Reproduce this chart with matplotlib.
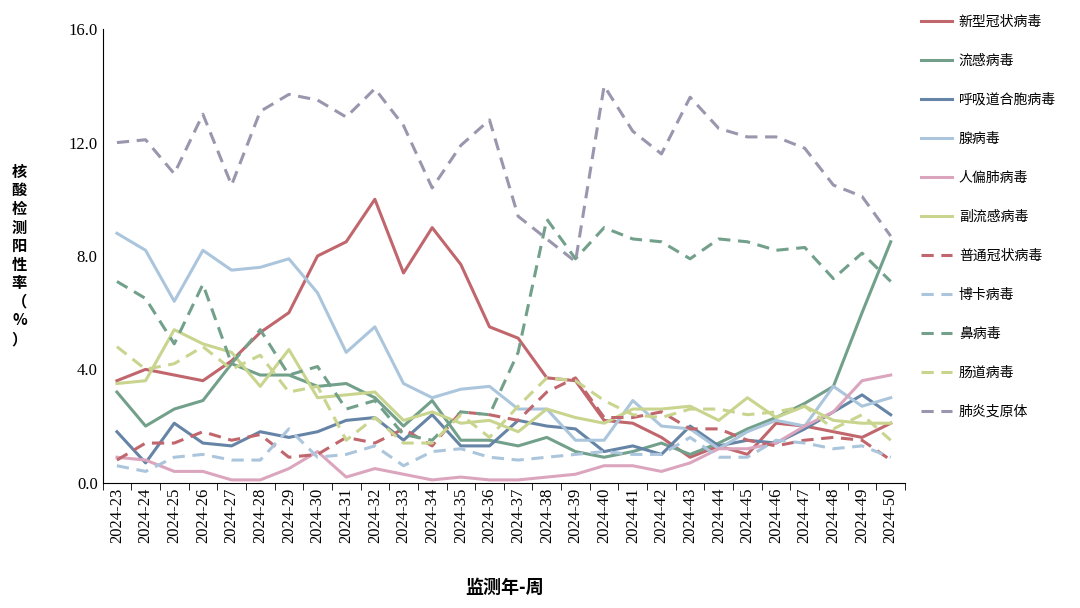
import matplotlib.pyplot as plt

weeks = ["2024-%d" % w for w in range(23, 51)]

covid = [3.6, 4.0, 3.8, 3.6, 4.3, 5.3, 6.0, 8.0, 8.5, 10.0, 7.4, 9.0, 7.7, 5.5, 5.1, 3.7, 3.6, 2.2, 2.1, 1.6, 0.9, 1.3, 1.0, 2.1, 2.0, 1.8, 1.6, 2.1]
flu = [3.2, 2.0, 2.6, 2.9, 4.2, 3.8, 3.8, 3.4, 3.5, 3.0, 2.0, 2.9, 1.5, 1.5, 1.3, 1.6, 1.1, 0.9, 1.1, 1.4, 1.0, 1.4, 1.9, 2.3, 2.8, 3.4, 6.0, 8.5]
rsv = [1.8, 0.7, 2.1, 1.4, 1.3, 1.8, 1.6, 1.8, 2.2, 2.3, 1.5, 2.4, 1.3, 1.3, 2.2, 2.0, 1.9, 1.1, 1.3, 1.0, 2.0, 1.3, 1.5, 1.4, 1.9, 2.5, 3.1, 2.4]
adeno = [8.8, 8.2, 6.4, 8.2, 7.5, 7.6, 7.9, 6.7, 4.6, 5.5, 3.5, 3.0, 3.3, 3.4, 2.6, 2.6, 1.5, 1.5, 2.9, 2.0, 1.9, 1.2, 1.8, 2.2, 2.0, 3.4, 2.7, 3.0]
hmpv = [0.9, 0.8, 0.4, 0.4, 0.1, 0.1, 0.5, 1.1, 0.2, 0.5, 0.3, 0.1, 0.2, 0.1, 0.1, 0.2, 0.3, 0.6, 0.6, 0.4, 0.7, 1.2, 1.2, 1.4, 2.0, 2.5, 3.6, 3.8]
paraflu = [3.5, 3.6, 5.4, 4.9, 4.6, 3.4, 4.7, 3.0, 3.1, 3.2, 2.2, 2.5, 2.1, 2.2, 1.8, 2.6, 2.3, 2.1, 2.6, 2.6, 2.7, 2.2, 3.0, 2.3, 2.7, 2.2, 2.1, 2.1]
hcov = [0.8, 1.4, 1.4, 1.8, 1.5, 1.7, 0.9, 1.0, 1.6, 1.4, 1.9, 1.3, 2.5, 2.4, 2.2, 3.2, 3.7, 2.3, 2.3, 2.5, 1.9, 1.9, 1.5, 1.3, 1.5, 1.6, 1.5, 0.8]
boca = [0.6, 0.4, 0.9, 1.0, 0.8, 0.8, 1.9, 0.9, 1.0, 1.3, 0.6, 1.1, 1.2, 0.9, 0.8, 0.9, 1.0, 1.1, 1.0, 1.0, 1.6, 0.9, 0.9, 1.5, 1.4, 1.2, 1.3, 0.9]
rhino = [7.1, 6.5, 4.9, 7.0, 4.2, 5.4, 3.8, 4.1, 2.6, 2.9, 1.7, 1.5, 2.5, 2.4, 4.6, 9.3, 7.9, 9.0, 8.6, 8.5, 7.9, 8.6, 8.5, 8.2, 8.3, 7.2, 8.1, 7.1]
entero = [4.8, 4.0, 4.2, 4.8, 4.0, 4.5, 3.2, 3.4, 1.5, 2.3, 1.4, 1.4, 2.4, 1.6, 2.7, 3.7, 3.6, 2.9, 2.4, 2.3, 2.6, 2.6, 2.4, 2.5, 2.7, 1.9, 2.4, 1.5]
myco = [12.0, 12.1, 10.9, 13.0, 10.5, 13.1, 13.7, 13.5, 12.9, 13.9, 12.6, 10.4, 11.9, 12.8, 9.4, 8.6, 7.8, 14.0, 12.4, 11.6, 13.6, 12.5, 12.2, 12.2, 11.8, 10.5, 10.1, 8.7]

series = [
    ("新型冠状病毒", covid, "#c0666c", "-"),
    ("流感病毒", flu, "#72a08a", "-"),
    ("呼吸道合胞病毒", rsv, "#6584a6", "-"),
    ("腺病毒", adeno, "#abc6dc", "-"),
    ("人偏肺病毒", hmpv, "#dba6bd", "-"),
    ("副流感病毒", paraflu, "#c9d58e", "-"),
    ("普通冠状病毒", hcov, "#c0666c", "--"),
    ("博卡病毒", boca, "#abc6dc", "--"),
    ("鼻病毒", rhino, "#72a08a", "--"),
    ("肠道病毒", entero, "#c9d58e", "--"),
    ("肺炎支原体", myco, "#9a96ae", "--"),
]

cjk = "Noto Sans CJK SC"
num = "Liberation Serif"

fig = plt.figure(figsize=(10.8, 6.08), dpi=100)
ax = fig.add_axes([0.095, 0.206, 0.743, 0.746])
x = list(range(len(weeks)))
for name, vals, color, ls in series:
    ax.plot(x, vals, color=color, linestyle=ls, linewidth=2.2, label=name,
            dashes=(4, 2.5) if ls == "--" else (None, None))

ax.set_xlim(-0.5, len(weeks) - 0.5)
ax.set_ylim(0, 16)
ax.set_yticks([0, 4, 8, 12, 16])
ax.set_yticklabels(["%.1f" % v for v in [0, 4, 8, 12, 16]], fontfamily=num, fontsize=12)
ax.set_xticks(x)
ax.set_xticklabels(weeks, rotation=90, fontfamily=num, fontsize=12)
ax.set_xticks([i - 0.5 for i in range(len(weeks) + 1)], minor=True)
ax.tick_params(axis="x", which="major", length=0)
ax.tick_params(axis="x", which="minor", length=5)
ax.tick_params(axis="y", length=0)
for s in ["top", "right"]:
    ax.spines[s].set_visible(False)

fig.text(0.018, 0.58, "核\n酸\n检\n测\n阳\n性\n率\n（\n%\n）", fontfamily=cjk,
         fontsize=11, fontweight="bold", ha="center", va="center", linespacing=1.2)
fig.text(0.467, 0.025, "监测年-周", fontfamily=cjk, fontsize=13, fontweight="bold", ha="center")

fig.legend(loc="upper left", bbox_to_anchor=(0.848, 0.985), frameon=False,
           prop={"family": cjk, "size": 10}, labelspacing=1.8, handlelength=2.2,
           handletextpad=0.5, borderaxespad=0)

fig.savefig("out.png", dpi=100)
